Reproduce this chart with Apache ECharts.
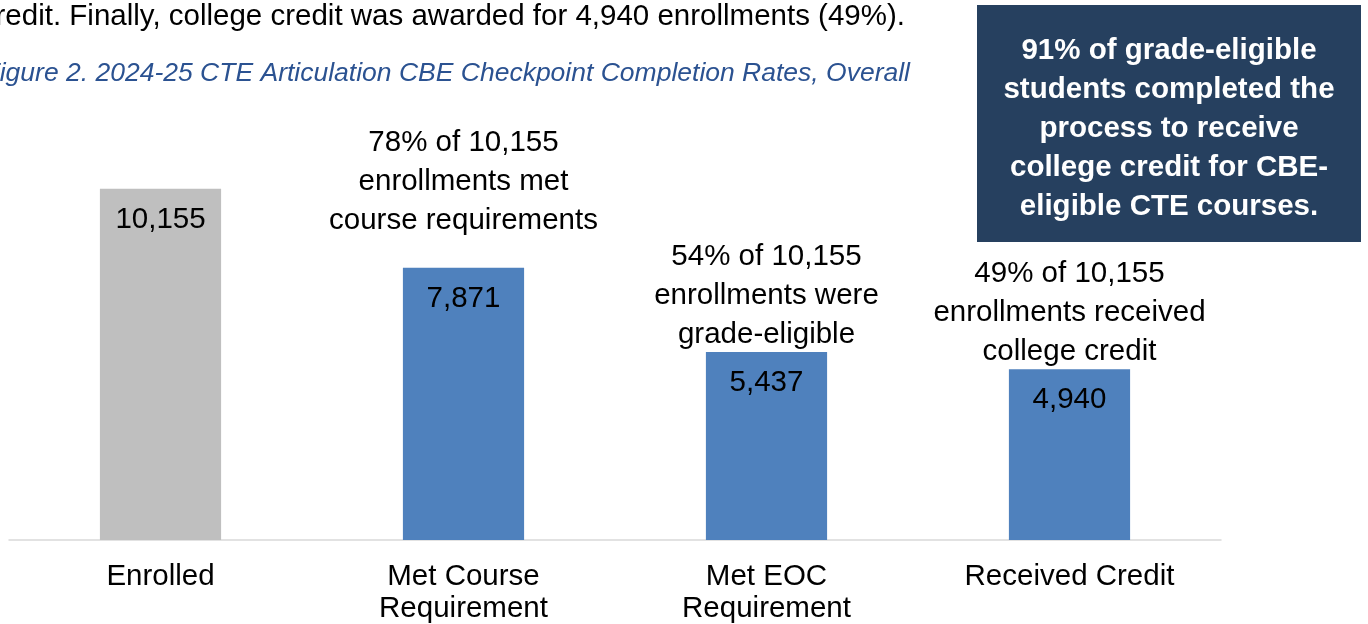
<!DOCTYPE html>
<html>
<head>
<meta charset="utf-8">
<script src="https://cdn.jsdelivr.net/npm/echarts@6/dist/echarts.min.js"></script>
<style>
  html, body { margin: 0; padding: 0; background: #fff; }
  #chart { width: 1368px; height: 624px; }
</style>
</head>
<body>
<div id="chart"></div>
<script>
// chart data
let categories = ['Enrolled', 'Met Course\nRequirement', 'Met EOC\nRequirement', 'Received Credit']
let enrollments = [10155, 7871, 5437, 4940]
let barColors = ['#BFBFBF', '#4F81BD', '#4F81BD', '#4F81BD']
let annotations = [
    '',
    '78% of 10,155\nenrollments met\ncourse requirements',
    '54% of 10,155\nenrollments were\ngrade-eligible',
    '49% of 10,155\nenrollments received\ncollege credit'
]
let annotationLift = [0, 29, 0, 0]

let fontFamily = '"Liberation Sans", Arial, sans-serif'
let fontSize = 29.5
let fmt = (v) => v.toLocaleString('en-US')

let mychart = echarts.init(document.getElementById('chart'))

let options = {
    animation: false,
    grid: {
        left: 9, right: 147, top: 125, bottom: 84,
        containLabel: false, outerBoundsMode: 'none'
    },
    xAxis: {
        type: 'category',
        data: categories,
        axisLine: { lineStyle: { color: '#D9D9D9', width: 1.5 } },
        axisTick: { show: false },
        axisLabel: {
            color: '#000', fontSize: fontSize, fontFamily: fontFamily,
            margin: 21, lineHeight: 32, interval: 0
        }
    },
    yAxis: {
        type: 'value', min: 0, max: 12000,
        show: false, splitLine: { show: false }
    },
    graphic: [
        {
            type: 'text', x: 905, y: 17,
            style: {
                text: 'credit. Finally, college credit was awarded for 4,940 enrollments (49%).',
                fill: '#000', font: '29.5px ' + fontFamily,
                align: 'right', verticalAlign: 'middle'
            }
        },
        {
            type: 'text', x: 910, y: 74,
            style: {
                text: 'Figure 2. 2024-25 CTE Articulation CBE Checkpoint Completion Rates, Overall',
                fill: '#2B5291', font: 'italic 26.5px ' + fontFamily,
                align: 'right', verticalAlign: 'middle'
            }
        },
        {
            type: 'rect',
            shape: { x: 977, y: 5, width: 384, height: 237 },
            style: { fill: '#26405F' }
        },
        {
            type: 'text', x: 1169, y: 128.5,
            style: {
                text: '91% of grade-eligible\nstudents completed the\nprocess to receive\ncollege credit for CBE-\neligible CTE courses.',
                fill: '#fff', font: 'bold ' + fontSize + 'px ' + fontFamily,
                lineHeight: 39, align: 'center', verticalAlign: 'middle'
            }
        }
    ],
    series: [
        {
            name: 'Enrollments',
            type: 'bar',
            barWidth: '40%',
            data: enrollments.map((v, i) => ({ value: v, itemStyle: { color: barColors[i] } })),
            label: {
                show: true, position: 'insideTop', distance: 16,
                color: '#000', fontSize: fontSize, fontFamily: fontFamily,
                formatter: (p) => fmt(p.value)
            }
        },
        {
            name: 'Annotation',
            type: 'bar',
            barWidth: '40%',
            barGap: '-100%',
            silent: true,
            itemStyle: { color: 'rgba(0,0,0,0)' },
            data: enrollments.map((v, i) => ({
                value: v,
                label: { offset: [0, 2 - annotationLift[i]] }
            })),
            label: {
                show: true, position: 'top', distance: 0,
                color: '#000', fontSize: fontSize, fontFamily: fontFamily,
                lineHeight: 39, align: 'center',
                formatter: (p) => annotations[p.dataIndex]
            }
        }
    ]
}

mychart.setOption(options)
window.addEventListener('resize', () => {
    mychart?.resize()
})
</script>
</body>
</html>
